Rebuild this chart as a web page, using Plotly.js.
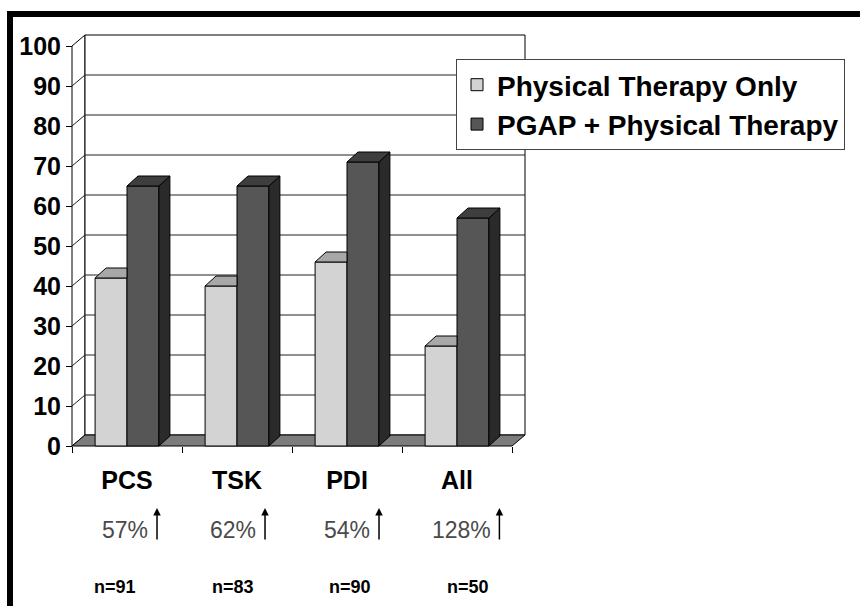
<!DOCTYPE html>
<html>
<head>
<meta charset="utf-8">
<script src="https://cdn.plot.ly/plotly-3.0.1.min.js"></script>
<style>
  html, body { margin: 0; padding: 0; background: #ffffff; }
  #chart { width: 860px; height: 606px; }
</style>
</head>
<body>
<div id="chart"></div>
<script>
// ---------------- data ----------------
const categories = ['PCS', 'TSK', 'PDI', 'All'];
const seriesNames = ['Physical Therapy Only', 'PGAP + Physical Therapy'];
const ptOnly = [42, 40, 46, 25];
const pgapPt = [65, 65, 71, 57];
const pctChange = ['57%', '62%', '54%', '128%'];
const nLabels = ['n=91', 'n=83', 'n=90', 'n=50'];
const yTicks = [0, 10, 20, 30, 40, 50, 60, 70, 80, 90, 100];

// ---------------- layout constants (pixels) ----------------
const W = 860, H = 606;
const L = 69, R = 527, T = 33, B = 449;
const plotW = R - L, plotH = B - T;
const PX_PER_X = 110, PX_PER_Y = 4;
const X0PX = 72;                       // pixel of category boundary -0.5
const Y0PX = 446;                      // pixel of value 0
const xRange = [-0.5 - (X0PX - L) / PX_PER_X, -0.5 + (R - X0PX) / PX_PER_X];
const yRange = [-(B - Y0PX) / PX_PER_Y, (Y0PX - T) / PX_PER_Y];
const WALL_DX = 13 / PX_PER_X, WALL_DY = 11 / PX_PER_Y;
const BAR_DX = 11 / PX_PER_X, BAR_DY = 10 / PX_PER_Y;
const BAR_W = 0.29;
const PCT_ROW_PX = 530, N_ROW_PX = 587, ARROW_TOP_PX = 508, ARROW_LEN_PX = 33;
const pctShiftPx = [-2, -4, 0, 4];
const nShiftPx = [-12, -4, 3, 11];

const FONT = '"Liberation Sans", Arial, Helvetica, sans-serif';
const LIGHT = '#d3d3d3', LIGHT_TOP = '#a8a8a8';
const DARK = '#565656', DARK_TOP = '#3e3e3e', DARK_SIDE = '#2a2a2a';
const FLOOR = '#7c7c7c';

const pxToPaperX = px => (px - L) / plotW;
const pxToPaperY = py => (B - py) / plotH;

function poly(pts) {
  return 'M' + pts.map(p => p[0] + ',' + p[1]).join('L') + 'Z';
}

const shapes = [];
const xL = -0.5, xRt = categories.length - 0.5;
const yMax = yTicks[yTicks.length - 1];

// left wall
shapes.push({type: 'path', xref: 'x', yref: 'y', layer: 'below',
  path: poly([[xL, 0], [xL, yMax], [xL + WALL_DX, yMax + WALL_DY], [xL + WALL_DX, WALL_DY]]),
  fillcolor: '#ffffff', line: {color: '#000', width: 1}});
// back wall
shapes.push({type: 'path', xref: 'x', yref: 'y', layer: 'below',
  path: poly([[xL + WALL_DX, WALL_DY], [xL + WALL_DX, yMax + WALL_DY], [xRt + WALL_DX, yMax + WALL_DY], [xRt + WALL_DX, WALL_DY]]),
  fillcolor: '#ffffff', line: {color: '#000', width: 1}});
// gridlines
yTicks.slice(1, -1).forEach(v => {
  shapes.push({type: 'path', xref: 'x', yref: 'y', layer: 'below',
    path: 'M' + xL + ',' + v + 'L' + (xL + WALL_DX) + ',' + (v + WALL_DY) + 'L' + (xRt + WALL_DX) + ',' + (v + WALL_DY),
    line: {color: '#222', width: 1}});
});
// floor
shapes.push({type: 'path', xref: 'x', yref: 'y', layer: 'below',
  path: poly([[xL, 0], [xRt, 0], [xRt + WALL_DX, WALL_DY], [xL + WALL_DX, WALL_DY]]),
  fillcolor: FLOOR, line: {color: '#000', width: 1}});

// 3D faces of bars
categories.forEach((c, i) => {
  const lx0 = i - BAR_W, lx1 = i, dx0 = i, dx1 = i + BAR_W;
  const lv = ptOnly[i], dv = pgapPt[i];
  shapes.push({type: 'path', xref: 'x', yref: 'y', layer: 'above',
    path: poly([[lx0, lv], [lx1, lv], [lx1, lv + BAR_DY], [lx0 + BAR_DX, lv + BAR_DY]]),
    fillcolor: LIGHT_TOP, line: {color: '#000', width: 1}});
  shapes.push({type: 'path', xref: 'x', yref: 'y', layer: 'above',
    path: poly([[dx1, 0], [dx1, dv], [dx1 + BAR_DX, dv + BAR_DY], [dx1 + BAR_DX, BAR_DY]]),
    fillcolor: DARK_SIDE, line: {color: '#000', width: 1}});
  shapes.push({type: 'path', xref: 'x', yref: 'y', layer: 'above',
    path: poly([[dx0, dv], [dx1, dv], [dx1 + BAR_DX, dv + BAR_DY], [dx0 + BAR_DX, dv + BAR_DY]]),
    fillcolor: DARK_TOP, line: {color: '#000', width: 1}});
});

// black frame (top and left)
shapes.push({type: 'rect', xref: 'paper', yref: 'paper', layer: 'above',
  x0: pxToPaperX(7), x1: pxToPaperX(W + 10), y0: pxToPaperY(11), y1: pxToPaperY(17),
  fillcolor: '#000', line: {width: 0}});
shapes.push({type: 'rect', xref: 'paper', yref: 'paper', layer: 'above',
  x0: pxToPaperX(7), x1: pxToPaperX(13), y0: pxToPaperY(11), y1: pxToPaperY(H + 10),
  fillcolor: '#000', line: {width: 0}});

// annotations: percent change, arrows, n
const canvas = document.createElement('canvas');
const ctx = canvas.getContext('2d');
ctx.font = '23px "Liberation Sans"';
const annotations = [];
categories.forEach((c, i) => {
  const tw = ctx.measureText(pctChange[i]).width;
  annotations.push({x: i, y: pxToPaperY(PCT_ROW_PX), xref: 'x', yref: 'paper', xshift: pctShiftPx[i],
    text: pctChange[i], showarrow: false, xanchor: 'center', yanchor: 'middle',
    font: {family: FONT, size: 23, color: '#4a4a4a'}});
  annotations.push({x: i, y: pxToPaperY(ARROW_TOP_PX), xref: 'x', yref: 'paper',
    xshift: pctShiftPx[i] + tw / 2 + 9,
    text: '', showarrow: true, ax: 0, ay: ARROW_LEN_PX, axref: 'pixel', ayref: 'pixel',
    arrowhead: 2, arrowsize: 1, arrowwidth: 1.5, arrowcolor: '#000', standoff: 0, startstandoff: 0});
  annotations.push({x: i, y: pxToPaperY(N_ROW_PX), xref: 'x', yref: 'paper', xshift: nShiftPx[i],
    text: nLabels[i], showarrow: false, xanchor: 'center', yanchor: 'middle',
    font: {family: FONT, size: 18, color: '#000', weight: 700}});
});

const traces = [
  {type: 'bar', name: seriesNames[0], x: categories, y: ptOnly, width: BAR_W, offset: -BAR_W,
   marker: {color: LIGHT, line: {color: '#000', width: 1}}, legendgroup: 'a', hoverinfo: 'skip'},
  {type: 'bar', name: seriesNames[1], x: categories, y: pgapPt, width: BAR_W, offset: 0,
   marker: {color: DARK, line: {color: '#000', width: 1}}, legendgroup: 'b', hoverinfo: 'skip'}
];

const layout = {
  width: W, height: H,
  margin: {l: L, r: W - R, t: T, b: H - B, pad: 0},
  paper_bgcolor: '#ffffff', plot_bgcolor: 'rgba(0,0,0,0)',
  font: {family: FONT, color: '#000'},
  showlegend: true,
  legend: {x: pxToPaperX(456), y: pxToPaperY(59), xanchor: 'left', yanchor: 'top',
    bgcolor: '#ffffff', bordercolor: '#444', borderwidth: 1,
    font: {family: FONT, size: 28, color: '#000', weight: 700},
    tracegroupgap: 0, traceorder: 'normal', itemwidth: 30},
  xaxis: {type: 'category', range: xRange, fixedrange: true,
    anchor: 'free', position: (B - Y0PX) / plotH,
    showgrid: false, zeroline: false, showline: false,
    tickson: 'boundaries', ticks: 'outside', ticklen: 6, tickwidth: 1, tickcolor: '#000',
    ticklabelstandoff: 17,
    tickfont: {family: FONT, size: 25, color: '#000', weight: 700}},
  yaxis: {range: yRange, fixedrange: true,
    anchor: 'free', position: (X0PX - L) / plotW,
    showgrid: false, zeroline: false, showline: false,
    tickmode: 'array', tickvals: yTicks, ticktext: yTicks.map(String),
    ticks: 'outside', ticklen: 6, tickwidth: 1, tickcolor: '#000',
    tickfont: {family: FONT, size: 25, color: '#000', weight: 700}},
  shapes: shapes,
  annotations: annotations
};

Plotly.newPlot('chart', traces, layout, {staticPlot: true, displayModeBar: false});
</script>
</body>
</html>
